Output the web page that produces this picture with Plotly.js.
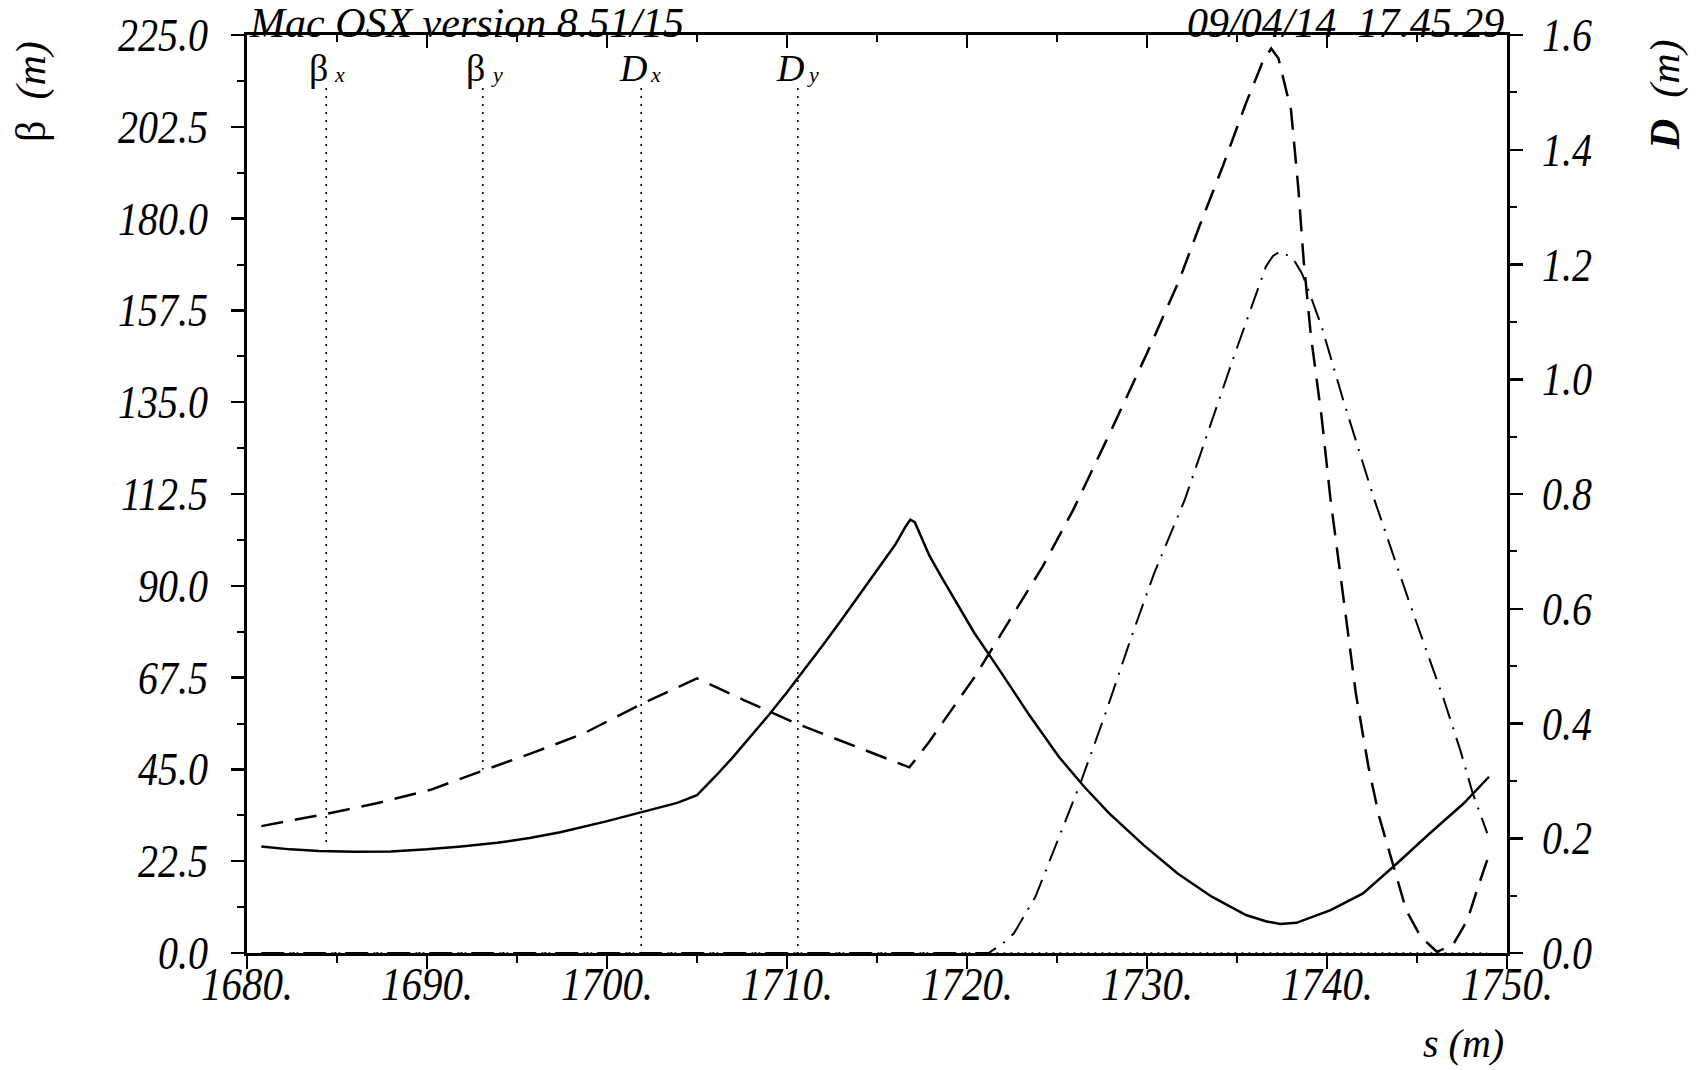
<!DOCTYPE html>
<html>
<head>
<meta charset="utf-8">
<script src="https://cdn.plot.ly/plotly-3.0.1.min.js"></script>
<style>
  html, body { margin: 0; padding: 0; background: #fff; }
  #chart { width: 1698px; height: 1070px; }
</style>
</head>
<body>
<div id="chart"></div>
<script>
// ---- data ----
const s_bx = [1680.8, 1682.4, 1684.0, 1686.0, 1688.0, 1690.0, 1691.9, 1693.9, 1695.7, 1697.4, 1699.9, 1701.9, 1703.9, 1705.0, 1706.0, 1707.0, 1708.0, 1709.0, 1710.0, 1711.0, 1712.0, 1713.0, 1714.0, 1715.0, 1716.0, 1716.6, 1716.85, 1717.1, 1717.9, 1718.6, 1720.4, 1721.8, 1723.4, 1725.1, 1726.5, 1727.9, 1729.8, 1731.7, 1733.6, 1735.5, 1736.6, 1737.4, 1738.3, 1740.2, 1742.0, 1743.9, 1745.7, 1747.6, 1749.0];
const beta_x = [26.1, 25.4, 25.0, 24.8, 24.9, 25.4, 26.1, 27.0, 28.2, 29.6, 32.2, 34.5, 36.8, 38.7, 43.2, 48.0, 53.1, 58.4, 63.9, 69.6, 75.5, 81.5, 87.6, 93.8, 100.0, 104.6, 106.2, 105.6, 97.5, 92.0, 78.5, 69.4, 58.7, 48.1, 40.8, 34.2, 26.5, 19.5, 13.8, 9.3, 7.8, 7.1, 7.4, 10.5, 14.6, 22.0, 29.3, 36.7, 43.2];

const s_by = [1680.8, 1684.4, 1687.2, 1690.2, 1693.1, 1695.9, 1698.7, 1701.9, 1705.0, 1707.6, 1710.6, 1713.8, 1716.8, 1717.9, 1720.4, 1721.8, 1724.2, 1725.9, 1728.0, 1730.0, 1731.8, 1732.9, 1734.2, 1735.5, 1736.4, 1736.9, 1737.3, 1738.0, 1738.4, 1738.7, 1739.1, 1739.7, 1740.2, 1741.0, 1741.6, 1742.3, 1742.9, 1743.7, 1744.4, 1745.2, 1746.1, 1747.0, 1747.8, 1748.4, 1748.9];
const beta_y = [31.1, 34.1, 36.7, 40.0, 44.7, 49.1, 53.8, 61.0, 67.3, 62.0, 56.1, 50.6, 45.5, 51.8, 67.5, 77.5, 94.7, 108.6, 128.0, 147.0, 165.0, 178.0, 192.7, 208.3, 218.1, 221.7, 219.3, 206.6, 187.8, 169.9, 151.5, 131.4, 111.0, 84.1, 63.7, 45.7, 33.4, 21.2, 10.5, 4.0, 0.3, 2.0, 8.1, 16.3, 22.8];

const s_dx = [1680.8, 1721.2, 1722.0, 1722.6, 1723.8, 1724.9, 1726.3, 1727.7, 1729.2, 1730.4, 1732.1, 1734.8, 1735.7, 1736.6, 1737.0, 1737.4, 1738.1, 1738.6, 1738.9, 1739.7, 1740.9, 1742.6, 1744.6, 1745.5, 1746.5, 1747.4, 1748.1, 1748.9];
const disp_x = [0, 0, 0.017, 0.034, 0.098, 0.185, 0.296, 0.418, 0.557, 0.662, 0.790, 1.037, 1.115, 1.196, 1.215, 1.223, 1.211, 1.185, 1.161, 1.092, 0.964, 0.793, 0.609, 0.528, 0.441, 0.354, 0.278, 0.209];

const s_dy = [1680.8, 1748.9];
const disp_y = [0, 0];

// legend markers (MAD style): label, subscript, position, dotted-line top and bottom (beta units)
const legendMain = ['β', 'β', 'D', 'D'];
const legendSub = ['x', 'y', 'x', 'y'];
const legendS = [1684.4, 1693.1, 1701.9, 1710.6];
const legendTop = [212.0, 212.0, 212.0, 212.0];
const legendEnd = [27.0, 45.0, 0.0, 0.0];

// ticks
const xTickVals = [1680, 1690, 1700, 1710, 1720, 1730, 1740, 1750];
const xTickText = ['1680.', '1690.', '1700.', '1710.', '1720.', '1730.', '1740.', '1750.'];
const betaTickVals = [0, 22.5, 45, 67.5, 90, 112.5, 135, 157.5, 180, 202.5, 225];
const betaTickText = ['0.0', '22.5', '45.0', '67.5', '90.0', '112.5', '135.0', '157.5', '180.0', '202.5', '225.0'];
const dTickVals = [0, 0.2, 0.4, 0.6, 0.8, 1.0, 1.2, 1.4, 1.6];
const dTickText = ['0.0', '0.2', '0.4', '0.6', '0.8', '1.0', '1.2', '1.4', '1.6'];

const headerLeft = 'Mac OSX version 8.51/15';
const headerRight = '09/04/14\u00a0\u00a017.45.29';

// ---- styling ----
const FAM = '"Liberation Serif", "Times New Roman", serif';
const tickFont = { family: FAM, size: 40, style: 'italic', color: '#000' };

const traces = [
  { x: s_dy, y: disp_y, xaxis: 'x', yaxis: 'y2', mode: 'lines', hoverinfo: 'skip',
    line: { color: '#000', width: 1.5, dash: '2px,5px' } },
  { x: s_dx, y: disp_x, xaxis: 'x', yaxis: 'y2', mode: 'lines', hoverinfo: 'skip',
    line: { color: '#000', width: 2, dash: '22px,9px,2px,9px' } },
  { x: s_by, y: beta_y, xaxis: 'x', yaxis: 'y', mode: 'lines', hoverinfo: 'skip',
    line: { color: '#000', width: 2.5, dash: '22px,12px' } },
  { x: s_bx, y: beta_x, xaxis: 'x', yaxis: 'y', mode: 'lines', hoverinfo: 'skip',
    line: { color: '#000', width: 2.5 } },
  { x: [], y: [], xaxis: 'x2', yaxis: 'y', mode: 'lines', hoverinfo: 'skip' }
];

legendS.forEach((s, i) => {
  traces.push({ x: [s, s], y: [legendTop[i], legendEnd[i]], xaxis: 'x', yaxis: 'y', mode: 'lines',
    hoverinfo: 'skip', line: { color: '#000', width: 1.6, dash: '2px,6px' } });
});

const annotations = [];
legendS.forEach((s, i) => {
  const isBeta = legendMain[i] === 'β';
  annotations.push({ xref: 'x', yref: 'paper', x: s, y: 0.9488, xanchor: 'right', yanchor: 'bottom',
    xshift: isBeta ? 4 : 8, yshift: -9, showarrow: false,
    text: isBeta ? 'β' : '<i>D</i>',
    font: { family: FAM, size: 38, color: '#000' } });
  annotations.push({ xref: 'x', yref: 'paper', x: s, y: 0.9488, xanchor: 'left', yanchor: 'bottom',
    xshift: isBeta ? 6 : 7, yshift: -7, showarrow: false,
    text: '<i>' + legendSub[i] + '</i>',
    font: { family: FAM, size: 22, color: '#000' } });
});

annotations.push(
  { xref: 'paper', yref: 'paper', x: 0, y: 1.0133, xanchor: 'left', yanchor: 'middle', showarrow: false,
    text: '<i>' + headerLeft + '</i>', font: { family: FAM, size: 42, color: '#000' } },
  { xref: 'paper', yref: 'paper', x: 0.999, y: 1.0133, xanchor: 'right', yanchor: 'middle', showarrow: false,
    text: '<i>' + headerRight + '</i>', font: { family: FAM, size: 42, color: '#000' } },
  { xref: 'paper', yref: 'paper', x: -0.1706, y: 0.938, xanchor: 'center', yanchor: 'middle', showarrow: false,
    textangle: -90, text: 'β\u00a0\u00a0<i>(m)</i>', font: { family: FAM, size: 42, color: '#000' } },
  { xref: 'paper', yref: 'paper', x: 1.1254, y: 0.9346, xanchor: 'center', yanchor: 'middle', showarrow: false,
    textangle: -90, text: '<b><i>D</i></b>\u00a0\u00a0<i>(m)</i>', font: { family: FAM, size: 42, color: '#000' } },
  { xref: 'paper', yref: 'paper', x: 0.999, y: -0.0985, xanchor: 'right', yanchor: 'middle', showarrow: false,
    text: '<i>s\u00a0(m)</i>', font: { family: FAM, size: 40, color: '#000' } }
);

const axisCommon = {
  showgrid: false, zeroline: false, showline: true, linecolor: '#000', linewidth: 3,
  tickcolor: '#000', tickwidth: 2.5, ticklen: 13, tickfont: tickFont
};

const layout = {
  width: 1698, height: 1070,
  margin: { l: 247, r: 191, t: 35, b: 117, pad: 0 },
  paper_bgcolor: '#fff', plot_bgcolor: '#fff',
  showlegend: false,
  xaxis: Object.assign({}, axisCommon, {
    range: [1680, 1750], tickmode: 'array', tickvals: xTickVals, ticktext: xTickText,
    ticks: 'outside', ticklabelstandoff: -20,
    tickfont: { family: FAM, size: 41, style: 'italic', color: '#000' },
    minor: { tickmode: 'linear', tick0: 1680, dtick: 5, ticks: 'outside', ticklen: 7, tickwidth: 2, tickcolor: '#000' }
  }),
  xaxis2: Object.assign({}, axisCommon, {
    range: [1680, 1750], overlaying: 'x', side: 'top', anchor: 'y',
    tickmode: 'array', tickvals: xTickVals, ticks: 'inside', showticklabels: false,
    minor: { tickmode: 'linear', tick0: 1680, dtick: 5, ticks: 'inside', ticklen: 7, tickwidth: 2, tickcolor: '#000' }
  }),
  yaxis: Object.assign({}, axisCommon, {
    range: [0, 225], tickmode: 'array', tickvals: betaTickVals, ticktext: betaTickText,
    ticks: 'outside', ticklabelstandoff: 15,
    minor: { tickmode: 'linear', tick0: 0, dtick: 11.25, ticks: 'outside', ticklen: 7, tickwidth: 2, tickcolor: '#000' }
  }),
  yaxis2: Object.assign({}, axisCommon, {
    range: [0, 1.6], overlaying: 'y', side: 'right', anchor: 'x',
    tickmode: 'array', tickvals: dTickVals, ticktext: dTickText,
    ticks: 'outside', ticklabelstandoff: 11,
    minor: { tickmode: 'linear', tick0: 0, dtick: 0.1, ticks: 'outside', ticklen: 7, tickwidth: 2, tickcolor: '#000' }
  }),
  annotations: annotations
};

Plotly.newPlot('chart', traces, layout, { staticPlot: true, displayModeBar: false }).then(function (gd) {
  // the reference's tick numerals are drawn slightly taller than plain Times: stretch them vertically in place
  gd.querySelectorAll('g.xtick > text, g.ytick > text, g.y2tick > text').forEach(function (t) {
    var b = t.getBBox();
    var cx = b.x + b.width / 2, cy = b.y + b.height / 2;
    var tr = t.getAttribute('transform') || '';
    t.setAttribute('transform', tr + ' translate(' + cx + ',' + cy + ') scale(1,1.15) translate(' + (-cx) + ',' + (-cy) + ')');
  });
});
</script>
</body>
</html>
